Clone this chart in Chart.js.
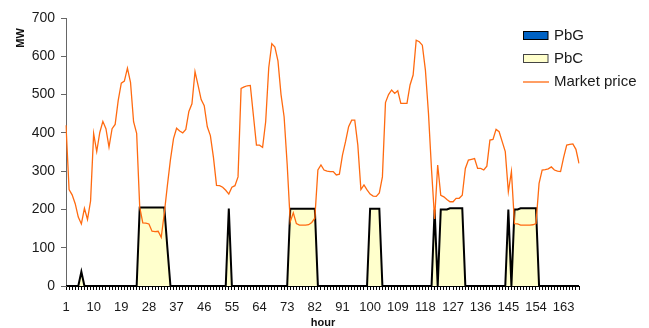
<!DOCTYPE html>
<html>
<head>
<meta charset="utf-8">
<script src="https://cdn.jsdelivr.net/npm/chart.js@4.4.1/dist/chart.umd.min.js"></script>
<style>
  body { margin: 0; background: #fff; }
  #wrap { width: 649px; height: 328px; }
</style>
</head>
<body>
<div id="wrap"><canvas id="chart" width="649" height="328"></canvas></div>
<script>
// Hours of the week (categories) and the hours that carry a label
var hours = [];
for (let h = 1; h <= 168; h++) hours.push(h);
var tickHours = [1, 10, 19, 28, 37, 46, 55, 64, 73, 82, 91, 100, 109, 118, 127, 136, 145, 154, 163];

// Market price, one value per hour
var marketPrice = [
  420, 252, 238, 215, 180, 162, 203, 174, 222, 398, 351, 401,
  430, 411, 363, 411, 422, 485, 530, 535, 569, 532, 429, 399,
  206, 165, 164, 162, 143, 142, 143, 127, 190, 262, 330, 385,
  412, 405, 400, 409, 456, 476, 560, 524, 487, 471, 416, 393,
  336, 263, 262, 258, 250, 240, 258, 262, 285, 516, 520, 523,
  524, 446, 368, 368, 362, 429, 570, 633, 624, 588, 500, 442,
  318, 168, 191, 163, 159, 159, 159, 160, 166, 177, 303, 316,
  303, 300, 299, 299, 290, 292, 342, 377, 416, 433, 433, 368,
  252, 264, 251, 240, 235, 234, 243, 285, 479, 500, 512, 503,
  510, 477, 477, 477, 525, 551, 642, 638, 629, 564, 451, 303,
  175, 316, 237, 233, 226, 220, 220, 229, 229, 237, 307, 329,
  331, 333, 307, 307, 303, 313, 381, 383, 409, 403, 377, 351,
  246, 299, 163, 162, 159, 159, 159, 159, 160, 163, 268, 303,
  304, 306, 311, 303, 300, 299, 336, 368, 370, 371, 357, 320
];

// PbC (MW)
var pbC = [
  0, 0, 0, 0, 0, 37, 0, 0, 0, 0, 0, 0,
  0, 0, 0, 0, 0, 0, 0, 0, 0, 0, 0, 0,
  205, 205, 205, 205, 205, 205, 205, 205, 205, 100, 0, 0,
  0, 0, 0, 0, 0, 0, 0, 0, 0, 0, 0, 0,
  0, 0, 0, 0, 0, 202, 0, 0, 0, 0, 0, 0,
  0, 0, 0, 0, 0, 0, 0, 0, 0, 0, 0, 0,
  0, 202, 202, 202, 202, 202, 202, 202, 202, 202, 0, 0,
  0, 0, 0, 0, 0, 0, 0, 0, 0, 0, 0, 0,
  0, 0, 0, 202, 202, 202, 202, 0, 0, 0, 0, 0,
  0, 0, 0, 0, 0, 0, 0, 0, 0, 0, 0, 0,
  200, 0, 200, 200, 200, 203, 203, 203, 203, 203, 0, 0,
  0, 0, 0, 0, 0, 0, 0, 0, 0, 0, 0, 0,
  200, 0, 200, 200, 203, 203, 203, 203, 203, 203, 0, 0,
  0, 0, 0, 0, 0, 0, 0, 0, 0, 0, 0, 0
];

// PbG (MW) - zero all week
var pbG = new Array(168).fill(0);

var priceColor = '#ff6a10';
var font = 'Liberation Sans, Arial, Helvetica, sans-serif';

// Legend and axis titles drawn by hand (Excel-style placement)
var extras = {
  id: 'extras',
  afterDraw(chart) {
    const ctx = chart.ctx;
    ctx.save();
    // axis titles
    ctx.fillStyle = '#111';
    ctx.font = 'bold 11px ' + font;
    ctx.textAlign = 'center';
    ctx.textBaseline = 'middle';
    ctx.fillText('hour', 323, 323);
    ctx.translate(21, 38);
    ctx.rotate(-Math.PI / 2);
    ctx.fillText('MW', 0, 0);
    ctx.restore();

    // legend
    ctx.save();
    ctx.lineWidth = 1;
    ctx.fillStyle = '#0062c4';
    ctx.fillRect(523, 31, 25, 8.5);
    ctx.strokeStyle = '#000';
    ctx.strokeRect(523.5, 31.5, 24.5, 8);
    ctx.fillStyle = '#ffffcc';
    ctx.fillRect(523, 54.5, 25, 8.5);
    ctx.strokeStyle = '#444';
    ctx.strokeRect(523.5, 54.5, 24.5, 8);
    ctx.strokeStyle = priceColor;
    ctx.lineWidth = 1.3;
    ctx.beginPath();
    ctx.moveTo(523, 82);
    ctx.lineTo(549, 82);
    ctx.stroke();
    ctx.fillStyle = '#1a1a1a';
    ctx.font = '15px ' + font;
    ctx.textAlign = 'left';
    ctx.textBaseline = 'middle';
    ctx.fillText('PbG', 554, 35.5);
    ctx.fillText('PbC', 554, 59);
    ctx.fillText('Market price', 554, 82);
    ctx.restore();
  }
};

const config = {
  type: 'line',
  data: {
    labels: hours,
    datasets: [
      {
        label: 'PbG', data: pbG, fill: 'origin',
        backgroundColor: '#0062c4', borderColor: '#000', borderWidth: 2,
        pointRadius: 0, order: 3
      },
      {
        label: 'PbC', data: pbC, fill: 'origin',
        backgroundColor: '#ffffcc', borderColor: '#000', borderWidth: 2,
        borderJoinStyle: 'miter', pointRadius: 0, order: 2
      },
      {
        label: 'Market price', data: marketPrice, fill: false,
        borderColor: priceColor, borderWidth: 1.3,
        pointRadius: 0, order: 1
      }
    ]
  },
  options: {
    responsive: false,
    animation: false,
    layout: { padding: { top: 18, right: 70, left: 0, bottom: 0 } },
    plugins: { legend: { display: false }, tooltip: { enabled: false } },
    scales: {
      x: {
        offset: false,
        grid: { drawOnChartArea: false, tickLength: 4, color: '#000' },
        border: { color: '#000', width: 1 },
        ticks: {
          autoSkip: false, maxRotation: 0, minRotation: 0, padding: 10,
          color: '#1a1a1a', font: { family: font, size: 13 },
          callback: function (v, i) {
            return tickHours.includes(hours[i]) ? String(hours[i]) : '';
          }
        },
        afterFit: function (s) { s.height = 42; }
      },
      y: {
        min: 0, max: 700,
        grid: { drawOnChartArea: false, tickLength: 5, color: '#666' },
        border: { color: '#666', width: 1 },
        ticks: {
          stepSize: 100, padding: 6,
          color: '#1a1a1a', font: { family: font, size: 14 }
        },
        afterFit: function (s) { s.width = 66; }
      }
    }
  },
  plugins: [extras]
};

new Chart(document.getElementById('chart').getContext('2d'), config);
</script>
</body>
</html>
